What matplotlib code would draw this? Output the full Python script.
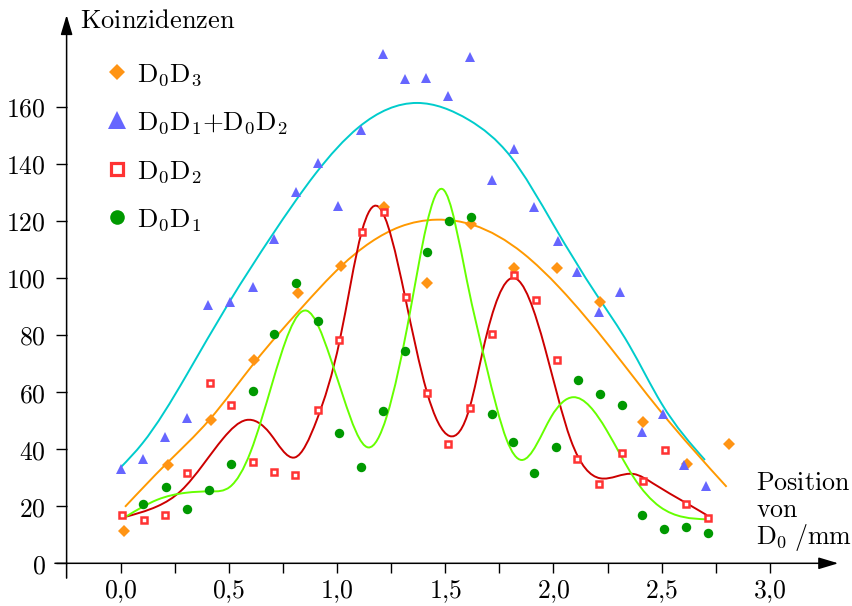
import numpy as np
import matplotlib
matplotlib.use("Agg")
import matplotlib.pyplot as plt
from matplotlib.path import Path
from matplotlib.patches import PathPatch
from matplotlib.lines import Line2D

plt.rcParams["mathtext.fontset"] = "cm"

# ---------------- measured coincidences ----------------
# D0D3 (diamonds)
x_d0d3 = [0.015, 0.217, 0.417, 0.618, 0.818, 1.017, 1.219, 1.417, 1.620, 1.816,
          2.015, 2.215, 2.413, 2.615, 2.812]
y_d0d3 = [11.3, 34.3, 50.3, 71.2, 94.8, 104.2, 124.9, 98.3, 118.9, 103.6,
          103.4, 91.4, 49.6, 34.7, 41.7]

# D0D1 + D0D2 (triangles)
x_sum = [0.000, 0.104, 0.205, 0.305, 0.405, 0.505, 0.613, 0.708, 0.810, 0.913,
         1.006, 1.109, 1.211, 1.314, 1.412, 1.512, 1.614, 1.717, 1.816, 1.911,
         2.019, 2.107, 2.210, 2.309, 2.408, 2.505, 2.604, 2.705]
y_sum = [33.1, 36.4, 44.4, 50.9, 90.4, 91.7, 96.9, 113.5, 130.1, 140.4,
         125.3, 151.8, 178.4, 169.6, 170.0, 163.7, 177.4, 134.2, 145.2, 124.9,
         112.9, 102.2, 88.1, 95.2, 46.1, 52.3, 34.3, 27.1]

# D0D2 (open squares)
x_d0d2 = [0.007, 0.108, 0.206, 0.308, 0.413, 0.508, 0.610, 0.710, 0.807, 0.910,
          1.010, 1.114, 1.217, 1.317, 1.414, 1.511, 1.613, 1.717, 1.816, 1.921,
          2.015, 2.110, 2.212, 2.315, 2.414, 2.515, 2.612, 2.713]
y_d0d2 = [17.0, 15.1, 17.0, 31.7, 63.3, 55.5, 35.6, 31.9, 30.8, 53.7,
          78.4, 116.2, 123.2, 93.3, 59.7, 41.7, 54.5, 80.3, 101.1, 92.4,
          71.2, 36.7, 27.9, 38.6, 28.8, 39.6, 20.9, 15.9]

# D0D1 (filled circles)
x_d0d1 = [0.104, 0.209, 0.306, 0.408, 0.508, 0.610, 0.710, 0.811, 0.910, 1.010,
          1.109, 1.212, 1.315, 1.417, 1.518, 1.619, 1.714, 1.811, 1.911, 2.012,
          2.115, 2.213, 2.315, 2.410, 2.512, 2.612, 2.713]
y_d0d1 = [20.8, 26.8, 18.9, 25.6, 34.7, 60.5, 80.2, 98.1, 85.0, 45.5,
          33.6, 53.5, 74.4, 109.1, 120.0, 121.3, 52.4, 42.4, 31.6, 40.7,
          64.3, 59.4, 55.5, 16.8, 11.9, 12.8, 10.6]

# ---------------- fitted curves (knots) ----------------
fit_sum_x = [0.0, 0.1, 0.3, 0.5, 0.7, 0.9, 1.1, 1.37, 1.61, 1.8, 2.0, 2.2, 2.35, 2.5, 2.7]
fit_sum_y = [33.6, 42.0, 65.4, 91.3, 115.0, 136.5, 152.8, 161.3, 155.3, 142.7,
             118.6, 94.0, 76.4, 55.9, 36.2]

fit_d0d3_x = [0.02, 0.21, 0.41, 0.62, 0.83, 1.02, 1.29, 1.46, 1.63, 1.86,
              2.03, 2.26, 2.49, 2.80]
fit_d0d3_y = [19.8, 34.8, 50.3, 70.5, 89.0, 104.2, 117.9, 120.4, 118.5, 108.6,
              96.4, 75.9, 53.7, 26.8]

fit_d0d2_x = [0.012, 0.17, 0.28, 0.38, 0.474, 0.58, 0.69, 0.805, 0.906, 1.013,
              1.114, 1.19, 1.314, 1.414, 1.52, 1.614, 1.676, 1.815, 1.961, 2.08,
              2.215, 2.37, 2.46, 2.616, 2.708]
fit_d0d2_y = [16.1, 20.0, 25.5, 34.5, 43.8, 50.2, 45.5, 37.1, 50.2, 78.4,
              116.2, 125.0, 93.4, 60.3, 44.6, 54.9, 75.3, 100.0, 75.3, 43.2,
              29.8, 31.3, 28.0, 21.0, 16.9]

fit_d0d1_x = [0.023, 0.17, 0.30, 0.42, 0.505, 0.60, 0.70, 0.86, 0.967, 1.03,
              1.144, 1.229, 1.337, 1.49, 1.60, 1.69, 1.784, 1.853, 1.99, 2.091,
              2.245, 2.369, 2.492, 2.708]
fit_d0d1_y = [16.3, 22.3, 24.7, 25.2, 26.8, 39.0, 63.0, 88.5, 72.4, 58.0,
              40.6, 51.4, 88.0, 131.0, 99.0, 69.0, 43.2, 36.2, 51.4, 58.2,
              46.7, 30.3, 19.8, 15.4]

x_ticks = [0.0, 0.25, 0.5, 0.75, 1.0, 1.25, 1.5, 1.75, 2.0, 2.25, 2.5, 2.75, 3.0]
x_tick_labels = ["0,0", "", "0,5", "", "1,0", "", "1,5", "", "2,0", "", "2,5", "", "3,0"]
y_ticks = [0, 20, 40, 60, 80, 100, 120, 140, 160]


def spline_path(xk, yk):
    """Natural cubic spline through the knots, emitted as Bezier segments."""
    x = np.asarray(xk, float)
    y = np.asarray(yk, float)
    n = len(x)
    h = np.diff(x)
    delta = np.diff(y) / h
    # second derivatives M (natural end conditions M0 = Mn-1 = 0)
    A = np.zeros((n, n))
    r = np.zeros(n)
    A[0, 0] = A[-1, -1] = 1.0
    for k in range(1, n - 1):
        A[k, k - 1] = h[k - 1]
        A[k, k] = 2 * (h[k - 1] + h[k])
        A[k, k + 1] = h[k]
        r[k] = 6 * (delta[k] - delta[k - 1])
    M = np.linalg.solve(A, r)
    d = np.empty(n)
    d[:-1] = delta - h * (2 * M[:-1] + M[1:]) / 6
    d[-1] = delta[-1] + h[-1] * (M[-2] + 2 * M[-1]) / 6
    verts = [(x[0], y[0])]
    codes = [Path.MOVETO]
    for k in range(n - 1):
        verts += [(x[k] + h[k] / 3, y[k] + d[k] * h[k] / 3),
                  (x[k + 1] - h[k] / 3, y[k + 1] - d[k + 1] * h[k] / 3),
                  (x[k + 1], y[k + 1])]
        codes += [Path.CURVE4] * 3
    return Path(verts, codes)


FS = 18.5

fig = plt.figure(figsize=(8.52, 6.06), dpi=100)
ax = fig.add_axes([0, 0, 1, 1])
ax.set_xlim(-0.5578, 3.3795)
ax.set_ylim(-14.96, 197.37)

for side in ["top", "right"]:
    ax.spines[side].set_visible(False)
ax.spines["bottom"].set_position(("data", 0))
ax.spines["left"].set_position(("data", -0.25))
ax.spines["bottom"].set_visible(False)
ax.spines["left"].set_visible(False)

ax.set_xticks(x_ticks)
ax.set_xticklabels(["$%s$" % t.replace(",", "{,}") if t else "" for t in x_tick_labels],
                   fontsize=FS)
ax.set_yticks(y_ticks)
ax.set_yticklabels(["$%d$" % v for v in y_ticks], fontsize=FS)
ax.tick_params(axis="x", direction="out", length=7.2, width=1.0, pad=4)
ax.tick_params(axis="y", direction="out", length=8.0, width=1.0, pad=7)

# axes with arrow heads
arrow = dict(arrowstyle="-|>,head_length=12,head_width=3.6", mutation_scale=1,
             lw=1.1, color="black", shrinkA=0, shrinkB=0)
ax.annotate("", xy=(3.316, 0), xytext=(-0.304, 0), arrowprops=arrow,
            annotation_clip=False)
ax.annotate("", xy=(-0.25, 192.1), xytext=(-0.25, -5.2), arrowprops=arrow,
            annotation_clip=False)

# fitted curves
for fx, fy, col in [(fit_sum_x, fit_sum_y, "#00cccc"),
                    (fit_d0d3_x, fit_d0d3_y, "#ff9900"),
                    (fit_d0d2_x, fit_d0d2_y, "#cc0000"),
                    (fit_d0d1_x, fit_d0d1_y, "#66ff00")]:
    ax.add_patch(PathPatch(spline_path(fx, fy), fill=False, edgecolor=col,
                           lw=1.4, zorder=2))

# measured points
style_d0d3 = dict(marker="D", color="#ff9414", markeredgewidth=0, linestyle="none")
style_sum = dict(marker="^", color="#6666ff", markeredgewidth=0, linestyle="none")
style_d0d2 = dict(marker="s", markerfacecolor="white", markeredgecolor="#ff3333",
                  linestyle="none")
style_d0d1 = dict(marker="o", color="#009900", markeredgewidth=0, linestyle="none")

ax.plot(x_d0d3, y_d0d3, markersize=6.3, zorder=3, **style_d0d3)
ax.plot(x_sum, y_sum, markersize=7.5, zorder=3, **style_sum)
ax.plot(x_d0d2, y_d0d2, markersize=5.0, markeredgewidth=1.8, zorder=4, **style_d0d2)
ax.plot(x_d0d1, y_d0d1, markersize=6.8, zorder=5, **style_d0d1)

handles = [Line2D([], [], markersize=8.0, **style_d0d3),
           Line2D([], [], markersize=13.0, **style_sum),
           Line2D([], [], markersize=8.5, markeredgewidth=2.3, **style_d0d2),
           Line2D([], [], markersize=10.5, **style_d0d1)]
labels = [r"$\mathrm{D_0D_3}$", r"$\mathrm{D_0D_1{+}D_0D_2}$",
          r"$\mathrm{D_0D_2}$", r"$\mathrm{D_0D_1}$"]
ax.legend(handles, labels, loc="upper left", bbox_to_anchor=(106 / 852, 1 - 61 / 606),
          frameon=False, fontsize=19.2, handlelength=0.8, handletextpad=0.35,
          labelspacing=0.82, borderpad=0, borderaxespad=0)

# axis titles
ax.text(-0.188, 190.0, r"$\mathrm{Koinzidenzen}$", fontsize=19, ha="left", va="center")
ax.text(2.935, 28.3, r"$\mathrm{Position}$", fontsize=18.7, ha="left", va="center")
ax.text(2.935, 18.7, r"$\mathrm{von}$", fontsize=18.7, ha="left", va="center")
ax.text(2.935, 8.9, r"$\mathrm{D_0\;/mm}$", fontsize=18.7, ha="left", va="center")

fig.savefig("out.png", dpi=100)
